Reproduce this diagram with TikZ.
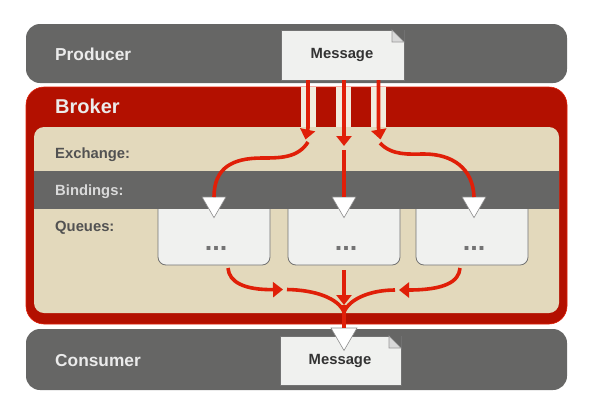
\documentclass[tikz,border=0pt]{standalone}
\usepackage{fontspec}
\setmainfont{Liberation Sans}
\usetikzlibrary{arrows.meta,shapes.geometric}
\definecolor{bandgrey}{HTML}{666665}
\definecolor{brokerred}{HTML}{B31000}
\definecolor{flowred}{HTML}{E01F08}
\definecolor{cream}{HTML}{E3D9BC}
\definecolor{paper}{HTML}{F0F1EF}

\newcommand{\foldcorner}[1]{%
  \fill[bandgrey] ([xshift=-12pt]#1.north east) -- (#1.north east) -- ([yshift=-12pt]#1.north east) -- cycle;
  \filldraw[fill=black!15, draw=black!40, line width=0.6pt] ([xshift=-12pt]#1.north east) -- ([yshift=-12pt]#1.north east) -- ([xshift=-12pt,yshift=-12pt]#1.north east) -- cycle;
}

\begin{document}
\begin{tikzpicture}[
    x=1pt, y=-1pt,
    band/.style  = {rectangle, fill=bandgrey, inner sep=0pt, outer sep=0pt},
    msgbox/.style = {rectangle, draw=black!55, line width=0.7pt, fill=paper,
                     inner sep=0pt, outer sep=0pt},
    msgtext/.style = {text=black!80, inner sep=0pt,
                      font=\fontsize{14.8}{16}\selectfont\bfseries},
    qbox/.style  = {rectangle, rounded corners=8pt, draw=black!55, line width=0.8pt,
                    fill=paper, minimum width=112pt, minimum height=70pt,
                    inner sep=0pt, outer sep=0pt},
    dots/.style  = {anchor=base, text=black!55, inner sep=0pt,
                    font=\fontsize{27}{28}\selectfont\bfseries},
    lbl/.style   = {anchor=base west, inner sep=0pt, text=black!68,
                    font=\fontsize{14.8}{16}\selectfont\bfseries},
    biglbl/.style = {lbl, text=white!92!black,
                     font=\fontsize{17.3}{18}\selectfont\bfseries},
    tri/.style   = {regular polygon, regular polygon sides=3, shape border rotate=180,
                    fill=white, draw=black!45, line width=0.6pt,
                    minimum size=27.5pt, inner sep=0pt, outer sep=0pt},
    flow/.style  = {draw=flowred, line width=3.6pt},
    tip/.style   = {-{Triangle[length=10pt,width=15pt]}},
  ]
  \useasboundingbox (0,0) rectangle (601,408);
  % producer and consumer bands
  \node[band, rounded corners=14pt, minimum width=541pt, minimum height=59pt] (producer) at (296.5,53.5) {};
  \node[band, rounded corners=14pt, minimum width=541pt, minimum height=61pt] (consumer) at (296.5,359.5) {};
  % broker
  \node[band, fill=brokerred, draw=flowred, line width=0.6pt, rounded corners=18pt,
        minimum width=541pt, minimum height=237pt] (broker) at (296.5,205.5) {};
  \node[band, fill=cream, rounded corners=10pt, minimum width=525pt, minimum height=186pt] (inner) at (296.5,220) {};
  % channels through the broker
  \foreach \x in {308.5,343,378.7}{
    \fill[cream!50!white] (\x-7.5,87) rectangle (\x+7.5,127);
  }
  % queues, their tops go under the bindings band
  \node[qbox] (q1) at (214,230) {};
  \node[qbox] (q2) at (344,230) {};
  \node[qbox] (q3) at (472,230) {};
  \node[band, minimum width=525pt, minimum height=38pt] (bindings) at (296.5,190) {};
  \node[dots] (d1) at (216,250) {...};
  \node[dots] (d2) at (346,250) {...};
  \node[dots] (d3) at (474,250) {...};
  % messages
  \node[msgbox, minimum width=123pt, minimum height=50pt] (msgin) at (342.5,55) {};
  \foldcorner{msgin}
  \node[msgbox, minimum width=121pt, minimum height=49pt] (msgout) at (340.5,360.5) {};
  \foldcorner{msgout}
  % bindings triangles
  \node[tri] (t1) at (214,203.9) {};
  \node[tri] (t2) at (344,203.9) {};
  \node[tri] (t3) at (474,203.9) {};
  \node[tri, minimum size=30pt] (tout) at (344,335.5) {};
  % free ends of the connectors
  \coordinate (inL) at (308,80);
  \coordinate (inR) at (378.5,80);
  \coordinate (exL) at (305.5,139.5);
  \coordinate (exC) at (344,146);
  \coordinate (exR) at (380.5,139.5);
  \coordinate (sL) at (308,142);
  \coordinate (sC) at (344,150);
  \coordinate (sR) at (380,143);
  \coordinate (qL) at (228,268);
  \coordinate (qC) at (344,270);
  \coordinate (qR) at (460,268);
  \coordinate (mL) at (283,289.5);
  \coordinate (mC) at (344,305);
  \coordinate (mR) at (399,290);
  \coordinate (nL) at (287,289.5);
  \coordinate (nR) at (395,290);
  % edges from the producer
  \draw[flow, tip] (inL) -- (308,128) -- (exL);
  \draw[flow, tip] (344,80) -- (exC);
  \draw[flow, tip] (inR) -- (378.5,128) -- (exR);
  \draw[flow] (sL) .. controls (298,158) and (280,158) .. (262,158)
              .. controls (232,158) and (214,168) .. (t1.north);
  \draw[flow] (sC) -- (t2.north);
  \draw[flow] (sR) .. controls (392,156) and (410,154) .. (424,154)
              .. controls (452,154) and (473,168) .. (t3.north);
  % edges to the consumer
  \draw[flow, tip] (qL) .. controls (229,282) and (244,290) .. (mL);
  \draw[flow, tip] (qC) -- (mC);
  \draw[flow, tip] (qR) .. controls (459,282) and (444,290) .. (mR);
  \draw[flow] (nL) .. controls (315,290) and (338,298) .. (344,312);
  \draw[flow] (nR) .. controls (372,290) and (350,298) .. (344,312);
  \draw[flow] (mC) -- (tout.north);
  % texts
  \node[biglbl] (lprod) at (55,60) {Producer};
  \node[lbl, text=white!92!black, font=\fontsize{20}{22}\selectfont\bfseries] (lbrok) at (55,113) {Broker};
  \node[lbl] (lexch) at (55,158) {Exchange:};
  \node[lbl, text=white!85!black] (lbind) at (55,195) {Bindings:};
  \node[lbl] (lqueu) at (55,231) {Queues:};
  \node[biglbl] (lcons) at (55,366) {Consumer};
  \node[msgtext] (tin) at (342,55) {Message};
  \node[msgtext] (tout2) at (340,361) {Message};
\end{tikzpicture}
\end{document}
